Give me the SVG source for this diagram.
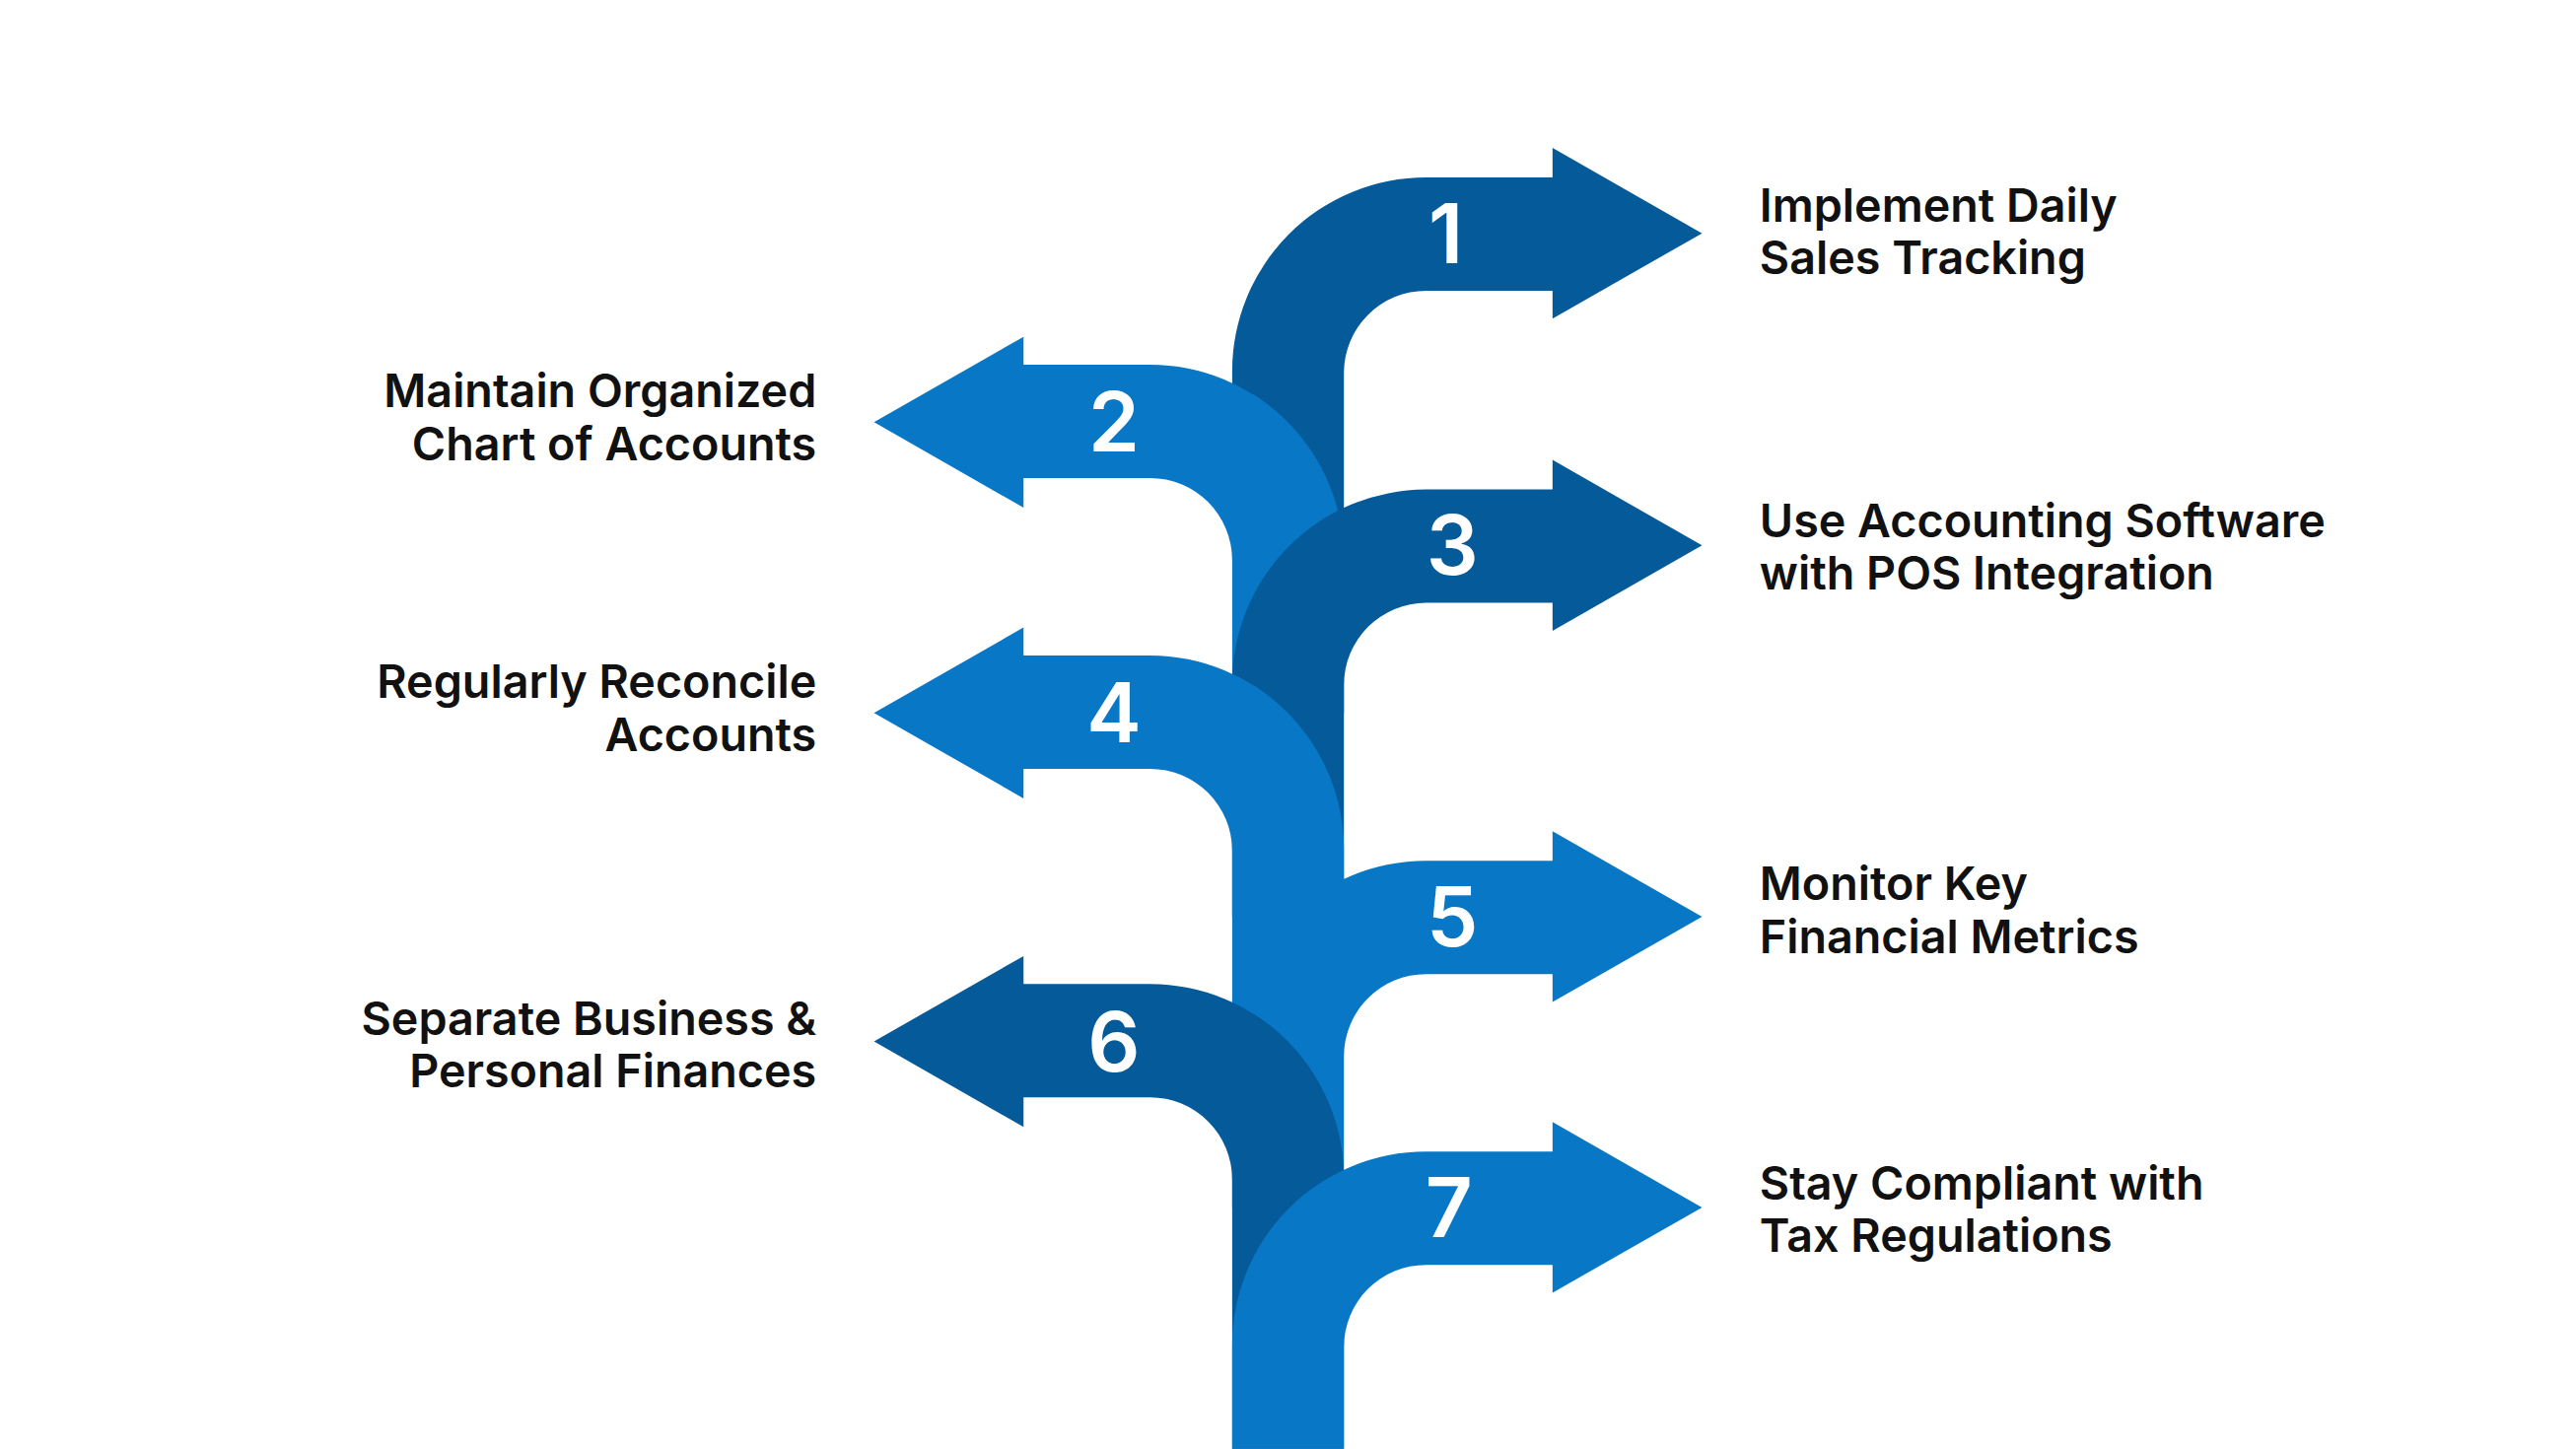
<svg xmlns="http://www.w3.org/2000/svg" width="2613" height="1470" viewBox="0 0 2613 1470">
<style>
.d{fill:#055a99}.l{fill:#0877c6}
.n{font-family:Inter,"Liberation Sans",sans-serif;font-weight:600;font-size:50px;fill:#fff;text-anchor:middle}
.t{font-family:Inter,"Liberation Sans",sans-serif;font-weight:600;font-size:28px;fill:#111}
.e{text-anchor:end}
</style>
<rect width="2613" height="1470" fill="#fff"/>
<g transform="scale(1.6665)">
<g id="connectors"></g>
<g id="node1"><path class="d" d="M750,332 L750,226 A118 118 0 0 1 868,108 L945,108 L945,90 L1036,142 L945,194 L945,177 L868,177 A50 50 0 0 0 818,227 L818,332 Z"/><text class="n" x="880" y="160">1</text>
<text class="t" x="1071" y="135">Implement Daily</text><text class="t" x="1071" y="167">Sales Tracking</text></g>
<g id="node2"><path class="l" d="M818,434 L818,340 A118 118 0 0 0 700,222 L623,222 L623,205 L532,257 L623,309 L623,291 L700,291 A50 50 0 0 1 750,341 L750,434 Z"/><text class="n" x="678" y="275">2</text>
<text class="t e" x="497" y="248">Maintain Organized</text><text class="t e" x="497" y="280">Chart of Accounts</text></g>
<g id="node3"><path class="d" d="M750,558 L750,416 A118 118 0 0 1 868,298 L945,298 L945,280 L1036,332 L945,384 L945,367 L868,367 A50 50 0 0 0 818,417 L818,558 Z"/><text class="n" x="884" y="350">3</text>
<text class="t" x="1071" y="327">Use Accounting Software</text><text class="t" x="1071" y="359">with POS Integration</text></g>
<g id="node4"><path class="l" d="M818,634 L818,517 A118 118 0 0 0 700,399 L623,399 L623,382 L532,434 L623,486 L623,468 L700,468 A50 50 0 0 1 750,518 L750,634 Z"/><text class="n" x="678" y="452">4</text>
<text class="t e" x="497" y="425">Regularly Reconcile</text><text class="t e" x="497" y="457">Accounts</text></g>
<g id="node5"><path class="l" d="M750,735 L750,642 A118 118 0 0 1 868,524 L945,524 L945,506 L1036,558 L945,610 L945,593 L868,593 A50 50 0 0 0 818,643 L818,735 Z"/><text class="n" x="884" y="576">5</text>
<text class="t" x="1071" y="548">Monitor Key</text><text class="t" x="1071" y="580">Financial Metrics</text></g>
<g id="node6"><path class="d" d="M818,882 L818,717 A118 118 0 0 0 700,599 L623,599 L623,582 L532,634 L623,686 L623,668 L700,668 A50 50 0 0 1 750,718 L750,882 Z"/><text class="n" x="678" y="652">6</text>
<text class="t e" x="497" y="630">Separate Business &amp;</text><text class="t e" x="497" y="662">Personal Finances</text></g>
<g id="node7"><path class="l" d="M750,882 L750,819 A118 118 0 0 1 868,701 L945,701 L945,683 L1036,735 L945,787 L945,770 L868,770 A50 50 0 0 0 818,820 L818,882 Z"/><text class="n" x="882" y="753">7</text>
<text class="t" x="1071" y="730">Stay Compliant with</text><text class="t" x="1071" y="762">Tax Regulations</text></g>
</g>
</svg>
